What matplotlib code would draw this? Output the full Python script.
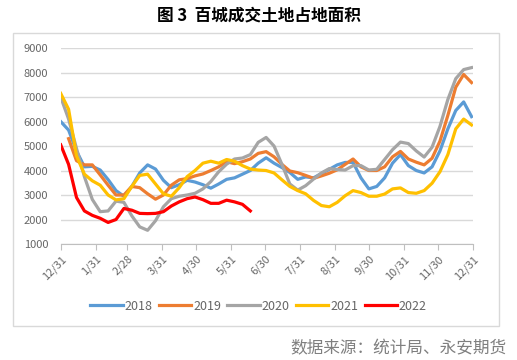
import matplotlib
matplotlib.use("Agg")
import matplotlib.pyplot as plt
from matplotlib.patches import Rectangle

plt.rcParams["font.family"] = ["Noto Sans CJK SC", "DejaVu Sans"]

# weekly values (week index 0 = 12/31)
s2018 = [6000, 5650, 4800, 4150, 4170, 4020, 3630, 3180, 2950, 3350, 3900, 4230, 4060,
         3600, 3300, 3420, 3600, 3530, 3420, 3280, 3450, 3640, 3700, 3850, 4000, 4300,
         4520, 4300, 4120, 3920, 3640, 3740, 3700, 3880, 4050, 4230, 4330, 4330, 3700,
         3250, 3350, 3700, 4300, 4650, 4200, 4000, 3900, 4150, 4800, 5700, 6450, 6800, 6200]
s2019 = [None, 5300, 4400, 4230, 4230, 3820, 3400, 3000, 3000, 3350, 3300, 3050, 2830,
         3000, 3400, 3620, 3670, 3780, 3860, 4000, 4150, 4360, 4280, 4360, 4470, 4700,
         4770, 4560, 4250, 3980, 3910, 3800, 3680, 3780, 3890, 4030, 4250, 4470, 4150,
         4000, 4000, 4150, 4560, 4780, 4470, 4340, 4230, 4500, 5200, 6250, 7400, 7920, 7590]
s2020 = [7000, 6100, 4900, 3750, 2820, 2320, 2350, 2750, 2700, 2150, 1700, 1560, 1950,
         2520, 2850, 2950, 3000, 3070, 3250, 3550, 3950, 4260, 4470, 4510, 4650, 5150,
         5350, 5000, 4250, 3450, 3200, 3380, 3650, 3900, 4080, 4040, 4020, 4200, 4200,
         4020, 4050, 4450, 4850, 5160, 5100, 4800, 4550, 4950, 5800, 6900, 7750, 8120, 8200]
s2021 = [7150, 6500, 4600, 3850, 3580, 3400, 3000, 2800, 2850, 3350, 3800, 3850, 3450,
         3050, 2950, 3300, 3750, 4000, 4300, 4380, 4300, 4450, 4380, 4200, 4060, 4020,
         4000, 3900, 3620, 3350, 3180, 3050, 2780, 2570, 2520, 2700, 2970, 3180, 3100,
         2950, 2950, 3040, 3250, 3290, 3100, 3070, 3180, 3480, 3950, 4650, 5700, 6100, 5860]
s2022 = [5050, 4250, 2900, 2350, 2170, 2050, 1880, 2000, 2450, 2380, 2250, 2240, 2250,
         2320, 2550, 2720, 2850, 2920, 2810, 2660, 2660, 2790, 2720, 2620, 2350]

years = ["2018", "2019", "2020", "2021", "2022"]
series = [s2018, s2019, s2020, s2021, s2022]
colors = ["#5B9BD5", "#ED7D31", "#A5A5A5", "#FFC000", "#FF0000"]

tick_days = [0, 31, 59, 90, 120, 151, 181, 212, 243, 273, 304, 334, 365]
tick_labels = ["12/31", "1/31", "2/28", "3/31", "4/30", "5/31", "6/30",
               "7/31", "8/31", "9/30", "10/31", "11/30", "12/31"]

fig = plt.figure(figsize=(5.17, 3.6), dpi=100)
fig.patches.append(Rectangle((0.0251, 0.0944), 0.940, 0.8139, transform=fig.transFigure,
                             fill=False, edgecolor="#d9d9d9", linewidth=1))

ax = fig.add_axes([0.1174, 0.3222, 0.7969, 0.5444])
for name, vals, c in zip(years, series, colors):
    pts = [(7 * i, v) for i, v in enumerate(vals) if v is not None]
    ax.plot([p[0] for p in pts], [p[1] for p in pts], color=c, linewidth=2.3,
            label=name, solid_joinstyle="round")

ax.set_xlim(0, 365)
ax.set_ylim(1000, 9000)
ax.set_yticks(range(1000, 9001, 1000))
ax.set_xticks(tick_days)
ax.set_xticklabels(tick_labels, rotation=45, ha="right", rotation_mode="anchor")
ax.grid(axis="y", color="#d9d9d9", linewidth=1)
ax.set_axisbelow(True)
for side in ["top", "right", "left"]:
    ax.spines[side].set_visible(False)
ax.spines["bottom"].set_color("#bfbfbf")
ax.tick_params(axis="y", length=0, pad=9, labelsize=8, labelcolor="#666666")
ax.tick_params(axis="x", length=4, color="#bfbfbf", pad=3, labelsize=8, labelcolor="#666666")

fig.text(0.5, 0.958, "图 3  百城成交土地占地面积", ha="center", va="center",
         fontsize=12, fontweight="bold", color="#000000")

fig.legend(loc="center", bbox_to_anchor=(0.5, 0.15), ncol=5, frameon=False,
           fontsize=9, handlelength=2.6, handletextpad=0.15, columnspacing=0.5,
           labelcolor="#666666")

fig.text(0.98, 0.03, "数据来源：统计局、永安期货", ha="right", va="center",
         fontsize=12, color="#7f7f7f")

fig.savefig("out.png", dpi=100)
